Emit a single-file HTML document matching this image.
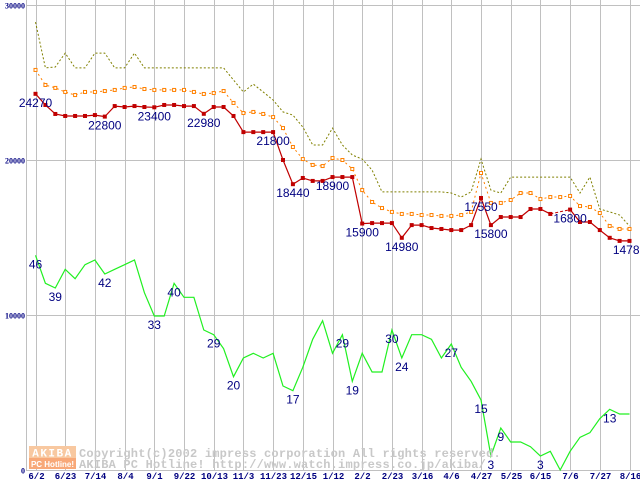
<!DOCTYPE html>
<html><head><meta charset="utf-8"><style>
html,body{margin:0;padding:0;background:#fff;}
svg{display:block;}
</style></head><body>
<svg id="chart" width="640" height="480" viewBox="0 0 640 480" xmlns="http://www.w3.org/2000/svg" font-family="Liberation Sans, sans-serif">
<g id="grid"></g>
<g id="series"></g>
<g id="labels"></g>
<g>
  <rect x="29" y="446" width="47" height="12" fill="#f8c8a0"/>
  <rect x="29" y="458" width="47" height="11" fill="#f8a878"/>
  <text x="52.5" y="456.5" text-anchor="middle" font-family="Liberation Mono, monospace" font-weight="bold" font-size="11" fill="#fff" letter-spacing="1.5">AKIBA</text>
  <text x="52.5" y="467" text-anchor="middle" font-family="Liberation Sans, sans-serif" font-weight="bold" font-size="8" fill="#fff">PC Hotline!</text>
  <text x="79" y="457" font-family="Liberation Mono, monospace" font-weight="bold" font-size="12" fill="#c8c8c8" letter-spacing="0.2">Copyright(c)2002 impress corporation All rights reserved.</text>
  <text x="79" y="468" font-family="Liberation Mono, monospace" font-weight="bold" font-size="12" fill="#c8c8c8" letter-spacing="0.2">AKIBA PC Hotline!  http://www.watch.impress.co.jp/akiba/</text>
</g>
<g id="axes"></g>
</svg>
<script>
const dates = ["6/2","6/23","7/14","8/4","9/1","9/22","10/13","11/3","11/23","12/15","1/12","2/2","2/23","3/16","4/6","4/27","5/25","6/15","7/6","7/27","8/16"];
const yTicks = [0,10000,20000,30000];
const minPrice = [24270,23550,22970,22840,22840,22840,22900,22800,23480,23420,23480,23420,23400,23550,23550,23480,23480,22980,23420,23420,22840,21800,21800,21800,21800,20000,18440,18840,18650,18650,18900,18900,18900,15900,15930,15930,15930,14980,15800,15800,15610,15550,15480,15480,15800,17550,15800,16320,16320,16320,16840,16840,16520,null,16800,16000,16000,15480,14980,14780,14780];
const avgPrice = [25810,24840,24650,24390,24190,24390,24390,24450,24520,24650,24710,24580,24520,24520,24520,24520,24390,24260,24320,24450,23680,23030,23100,22970,22770,22060,20840,20060,19680,19610,20130,20000,19420,18060,17290,16900,16650,16520,16520,16450,16450,16390,16390,16450,16650,19160,17230,17230,17420,17870,17870,17480,17610,17610,17680,17030,16970,16580,15740,15550,15550];
const maxPrice = [28900,25940,26000,26900,25940,25940,26900,26900,25940,25940,26900,25940,25940,25940,25940,25940,25940,25940,25940,25940,25160,24390,24900,24390,23870,23100,22900,22130,20970,20970,22060,20970,20320,20060,19350,17940,17940,17940,17940,17940,17940,17940,17870,17610,17940,20060,18060,17870,18900,18900,18900,18900,18900,18900,18900,17870,18900,16840,16650,16450,15740];
const shopCount = [46,40,39,43,41,44,45,42,43,44,45,38,33,33,40,37,37,30,29,26,20,24,25,24,25,18,17,22,28,32,25,29,19,25,21,21,30,24,29,29,28,24,27,22,19,15,3,9,6,6,5,3,4,0,4,7,8,11,13,12,12];
const minLabelIdx = [0,7,12,17,24,26,30,33,37,45,46,54,60];
const countLabelIdx = [0,2,7,12,14,18,20,26,31,32,36,37,42,45,46,47,51,58];

const NS="http://www.w3.org/2000/svg";
const X0=35.5, DX=9.9, Y0=470, PXPER=155/10000, CPX=14/3;
const xs=i=>X0+i*DX;
const yv=v=>Y0-v*PXPER;
const yc=c=>Y0-c*CPX;
function mk(parent,tag,attrs){const e=document.createElementNS(NS,tag);for(const k in attrs)e.setAttribute(k,attrs[k]);parent.appendChild(e);return e;}
const grid=document.getElementById('grid'), series=document.getElementById('series'), labels=document.getElementById('labels'), axes=document.getElementById('axes');

dates.forEach((d,k)=>{
  const x=Math.round(xs(k*3))+0.5;
  const l=mk(grid,'line',{x1:x,y1:0,x2:x,y2:470,stroke:'#c0c0c0','stroke-width':1});
  
  
  const t=mk(axes,'text',{x:x,y:479,'text-anchor':'middle','font-size':9,'font-weight':'bold','font-family':'Liberation Mono, monospace',fill:'#000080'});
  t.textContent=d;
  
  
});
yTicks.forEach(v=>{
  const y=Math.round(yv(v))+0.5;
  const l=mk(grid,'line',{x1:26,y1:y,x2:640,y2:y,stroke:'#c0c0c0','stroke-width':1});
  
  
  const t=mk(axes,'text',{x:25,y:y+3,'text-anchor':'end','font-size':8,'font-weight':'bold','font-family':'Liberation Serif, serif',fill:'#000080'});
  t.textContent=String(v);
  
  
});
const ax=mk(grid,'line',{x1:26.5,y1:0,x2:26.5,y2:470,stroke:'#c0c0c0','stroke-width':1});



function pathOf(arr,yf){let d='',pen=false;arr.forEach((v,i)=>{if(v===null){pen=false;return;}d+=(pen?'L':'M')+xs(i).toFixed(1)+' '+yf(v).toFixed(1)+' ';pen=true;});return d;}
function gapPath(arr,yf){let d='';arr.forEach((v,i)=>{if(v===null&&i>0&&i<arr.length-1){d+='M'+xs(i-1).toFixed(1)+' '+yf(arr[i-1]).toFixed(1)+' L'+xs(i+1).toFixed(1)+' '+yf(arr[i+1]).toFixed(1)+' ';}});return d;}

const pm=mk(series,'path',{d:pathOf(maxPrice,yv),fill:'none',stroke:'#808000','stroke-width':1,'stroke-dasharray':'2,2'});


const pa=mk(series,'path',{d:pathOf(avgPrice,yv),fill:'none',stroke:'#ff8000','stroke-width':1,'stroke-dasharray':'2,3'});


avgPrice.forEach((v,i)=>{
  const r=mk(series,'rect',{x:xs(i)-1.5,y:yv(v)-1.5,width:3,height:3,fill:'#fff',stroke:'#ff8000','stroke-width':1});
  
  
});
const pg=mk(series,'path',{d:pathOf(shopCount,yc),fill:'none',stroke:'#20f020','stroke-width':1.2});


const pr=mk(series,'path',{d:pathOf(minPrice,yv),fill:'none',stroke:'#c00000','stroke-width':1.2});


const prg=mk(series,'path',{d:gapPath(minPrice,yv),fill:'none',stroke:'#c00000','stroke-width':1,'stroke-dasharray':'3,2'});


minPrice.forEach((v,i)=>{
  if(v===null)return;
  const r=mk(series,'rect',{x:xs(i)-2,y:yv(v)-2,width:4,height:4,fill:'#c00000'});
  
  
});
minLabelIdx.forEach(i=>{
  const t=mk(labels,'text',{x:xs(i),y:yv(minPrice[i])+13,'text-anchor':'middle','font-size':12,fill:'#000080'});
  t.textContent=String(minPrice[i]);
  
  
});
countLabelIdx.forEach(i=>{
  const t=mk(labels,'text',{x:xs(i),y:yc(shopCount[i])+13,'text-anchor':'middle','font-size':12,fill:'#000080'});
  t.textContent=String(shopCount[i]);
  
  
});
</script>
</body></html>
